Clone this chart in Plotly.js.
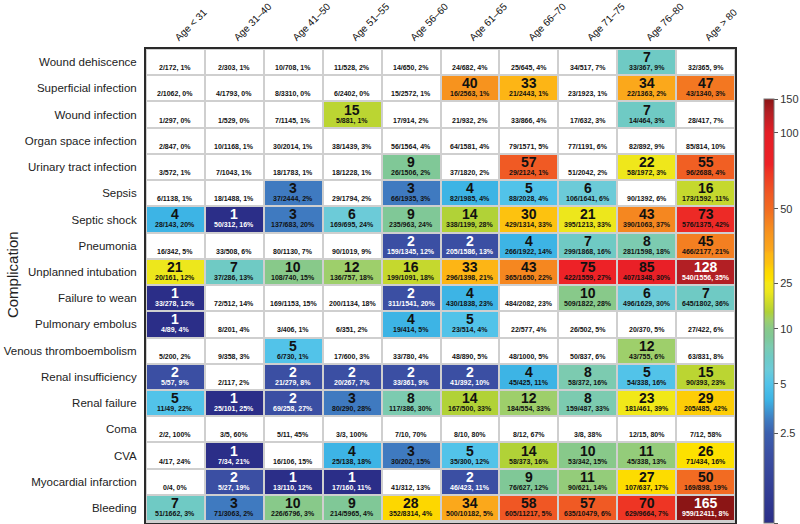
<!DOCTYPE html>
<html>
<head>
<meta charset="utf-8">
<script src="https://cdn.plot.ly/plotly-3.0.1.min.js"></script>
<style>html,body{margin:0;padding:0;background:#fff;}#chart{width:800px;height:524px;}</style>
</head>
<body>
<div id="chart"></div>
<script>
const complications = ["Wound dehiscence","Superficial infection","Wound infection","Organ space infection","Urinary tract infection","Sepsis","Septic shock","Pneumonia","Unplanned intubation","Failure to wean","Pulmonary embolus","Venous thromboembolism","Renal insufficiency","Renal failure","Coma","CVA","Myocardial infarction","Bleeding"];
const ageGroups = ["Age < 31","Age 31–40","Age 41–50","Age 51–55","Age 56–60","Age 61–65","Age 66–70","Age 71–75","Age 76–80","Age > 80"];

// displayed value per cell (null = no coloured value)
const cellValues = [
  [null,null,null,null,null,null,null,null,7,null],
  [null,null,null,null,null,40,33,null,34,47],
  [null,null,null,15,null,null,null,null,7,null],
  [null,null,null,null,null,null,null,null,null,null],
  [null,null,null,null,9,null,57,null,22,55],
  [null,null,3,null,3,4,5,6,null,16],
  [4,1,3,6,9,14,30,21,43,73],
  [null,null,null,null,2,2,4,7,8,45],
  [21,7,10,12,16,33,43,75,85,128],
  [1,null,null,null,2,4,null,10,6,7],
  [1,null,null,null,4,5,null,null,null,null],
  [null,null,5,null,null,null,null,null,12,null],
  [2,null,2,2,2,2,4,8,5,15],
  [5,1,2,3,8,14,12,8,23,29],
  [null,null,null,null,null,null,null,null,null,null],
  [null,1,null,4,3,5,14,10,11,26],
  [null,2,1,1,null,2,9,11,27,50],
  [7,3,10,9,28,34,58,57,70,165]
];
const eventCounts = [
  [2,2,10,11,14,24,25,34,33,32],
  [2,4,8,6,15,16,21,23,22,43],
  [1,1,7,5,17,21,33,17,14,28],
  [2,10,30,38,56,64,79,77,82,85],
  [3,7,18,18,26,37,29,51,58,96],
  [6,18,37,29,66,82,88,106,90,173],
  [28,50,137,169,235,338,429,395,390,576],
  [16,33,80,90,159,205,266,299,281,466],
  [20,37,108,136,199,296,365,422,407,540],
  [33,72,169,200,311,430,484,509,496,645],
  [4,8,3,6,19,23,22,26,20,27],
  [5,9,6,17,33,48,48,50,43,63],
  [5,2,21,20,33,41,45,58,54,90],
  [11,25,69,80,117,167,184,159,181,205],
  [2,3,5,3,7,8,8,3,12,7],
  [4,7,16,25,30,35,58,53,45,71],
  [0,5,13,17,41,46,76,90,107,169],
  [51,71,226,214,352,500,605,635,629,959]
];
const totalCounts = [
  [172,303,708,528,650,682,645,517,367,365],
  [1062,1793,3310,2402,2572,2563,2443,1923,1363,1340],
  [297,529,1145,881,914,932,866,632,464,417],
  [847,1168,2014,1439,1564,1581,1571,1191,892,814],
  [572,1043,1783,1228,1506,1820,2124,2042,1972,2688],
  [1138,1488,2444,1794,1935,1985,2028,1641,1392,1592],
  [143,312,683,695,963,1199,1314,1213,1063,1375],
  [342,508,1130,1019,1345,1586,1922,1868,1598,2177],
  [161,286,740,757,1091,1398,1650,1559,1348,1556],
  [278,512,1153,1134,1541,1838,2082,1822,1629,1802],
  [89,201,406,351,414,514,577,502,370,422],
  [200,358,730,600,780,890,1000,837,755,831],
  [57,117,279,267,361,392,425,372,338,393],
  [49,101,258,290,386,500,554,487,461,485],
  [2,5,11,3,10,10,12,8,15,12],
  [17,34,106,138,202,300,373,342,338,434],
  [4,27,110,160,312,423,627,621,637,898],
  [1662,3063,6796,5965,8314,10182,11217,10479,9664,12411]
];
const percents = [
  [1,1,1,2,2,4,4,7,9,9],
  [0,0,0,0,1,1,1,1,2,3],
  [0,0,1,1,2,2,4,3,3,7],
  [0,1,1,3,4,4,5,6,9,10],
  [1,1,1,1,2,2,1,2,3,4],
  [1,1,2,2,3,4,4,6,6,11],
  [20,16,20,24,24,28,33,33,37,42],
  [5,6,7,9,12,13,14,16,18,21],
  [12,13,15,18,18,21,22,27,30,35],
  [12,14,15,18,20,23,23,28,30,36],
  [4,4,1,2,5,4,4,5,5,6],
  [2,3,1,3,4,5,5,6,6,8],
  [9,2,8,7,9,10,11,16,16,23],
  [22,25,27,28,30,33,33,33,39,42],
  [100,60,45,100,70,80,67,38,80,58],
  [24,21,15,18,15,12,16,15,13,16],
  [0,19,12,11,13,11,12,14,17,19],
  [3,2,3,4,4,5,5,6,7,8]
];
const colorbarTickLabels = ["1","2.5","5","10","25","50","100","150"];
const colorbarTickValues = [1,2.5,5,10,25,50,100,150];
const colorbarTickPositions = [0,0.212,0.328,0.458,0.566,0.741,0.92,1];

function toScale(v){
  if (v === null) return null;
  const tv = colorbarTickValues, tp = colorbarTickPositions;
  if (v <= tv[0]) return 0;
  if (v >= tv[tv.length-1]) return 1;
  for (let i=0;i<tv.length-1;i++){
    if (v <= tv[i+1]) {
      const f = Math.log(v/tv[i]) / Math.log(tv[i+1]/tv[i]);
      return tp[i] + f*(tp[i+1]-tp[i]);
    }
  }
  return 1;
}

const zScaled = cellValues.map(r => r.map(toScale));
const zWhite = cellValues.map(r => r.map(() => 1));

const colorscale = [
  [0,'#2b2e88'],[0.16,'#3b4fa3'],[0.212,'#3c60ae'],[0.2425,'#3f7ac0'],[0.291,'#3db4e5'],
  [0.328,'#52c3e9'],[0.362,'#6ccbd8'],[0.391,'#6fcac4'],[0.416,'#7ccbb0'],[0.438,'#80c897'],
  [0.458,'#88c98a'],[0.48,'#9fcf6a'],[0.498,'#b1d236'],[0.513,'#c5d82e'],[0.545,'#ede71c'],
  [0.566,'#f5e817'],[0.576,'#fde100'],[0.595,'#fdd700'],[0.612,'#fdc20f'],[0.636,'#fdb515'],
  [0.643,'#fba81b'],[0.685,'#f7931e'],[0.714,'#f47f21'],[0.741,'#f26b22'],[0.775,'#f05a24'],
  [0.828,'#ee3524'],[0.846,'#ed2227'],[0.92,'#e41e26'],[0.969,'#b21f24'],[1,'#8b1515']
];

const FONT = 'Liberation Sans, Arial, Helvetica, sans-serif';

const traces = [
  {
    type:'heatmap', x:ageGroups, y:complications, z:zWhite,
    colorscale:[[0,'#ffffff'],[1,'#ffffff']], showscale:false, xgap:2, ygap:2, hoverinfo:'skip'
  },
  {
    type:'heatmap', x:ageGroups, y:complications, z:zScaled,
    colorscale:colorscale, zmin:0, zmax:1, xgap:2, ygap:2, hoverinfo:'skip',
    colorbar:{
      x:1.0492, xanchor:'left', xpad:0, y:0, yanchor:'bottom', ypad:0,
      len:424, lenmode:'pixels', thickness:10,
      outlinewidth:1, outlinecolor:'#777',
      tickmode:'array', tickvals:colorbarTickPositions, ticktext:colorbarTickLabels,
      ticks:'outside', ticklen:4, tickcolor:'#555',
      tickfont:{family:FONT, size:11, color:'#333'}
    }
  }
];

const annotations = [];
for (let i=0;i<complications.length;i++){
  for (let j=0;j<ageGroups.length;j++){
    const v = cellValues[i][j];
    const light = v !== null && (v <= 2 || v >= 100);
    const col = light ? '#ffffff' : '#111111';
    if (v !== null){
      annotations.push({x:ageGroups[j], y:complications[i], xref:'x', yref:'y', text:'<b>'+v+'</b>',
        showarrow:false, yshift:5, font:{family:FONT, size:14, color:col}});
    }
    annotations.push({x:ageGroups[j], y:complications[i], xref:'x', yref:'y',
      text:'<b>'+eventCounts[i][j]+'/'+totalCounts[i][j]+', '+percents[i][j]+'%</b>',
      showarrow:false, yshift:-6, font:{family:FONT, size:7, color:col}});
  }
}
annotations.push({xref:'paper', yref:'paper', x:-0.2275, y:0.523, xanchor:'center', yanchor:'middle',
  text:'Complication', textangle:-90, showarrow:false, font:{family:FONT, size:15, color:'#222'}});

const layout = {
  width:800, height:524,
  margin:{l:146, r:65, t:49, b:1, autoexpand:false},
  paper_bgcolor:'#ffffff', plot_bgcolor:'#cfcfcf',
  font:{family:FONT, color:'#222'},
  xaxis:{side:'top', type:'category', tickangle:-45, showgrid:false, zeroline:false, automargin:false,
    showline:true, mirror:true, linecolor:'#2a2a2a', linewidth:2, ticks:'',
    ticklabelstandoff:0, tickfont:{family:FONT, size:10, color:'#111'}},
  yaxis:{type:'category', autorange:'reversed', showgrid:false, zeroline:false, automargin:false,
    showline:true, mirror:true, linecolor:'#2a2a2a', linewidth:2, ticks:'',
    ticklabelstandoff:5, tickfont:{family:FONT, size:11.5, color:'#222'}},
  annotations:annotations,
  showlegend:false
};

Plotly.newPlot('chart', traces, layout, {displayModeBar:false, staticPlot:true});
</script>
</body>
</html>
